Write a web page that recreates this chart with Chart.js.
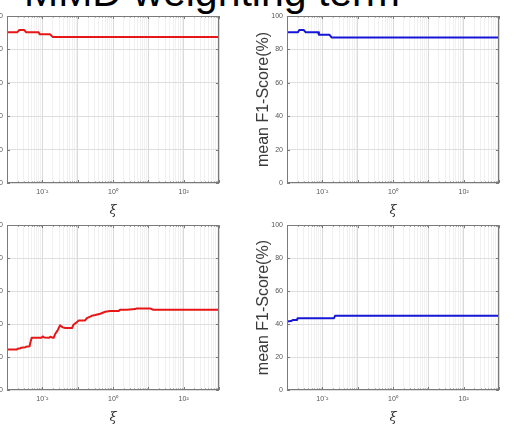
<!DOCTYPE html>
<html>
<head>
<meta charset="utf-8">
<script src="https://cdn.jsdelivr.net/npm/chart.js@4.4.0/dist/chart.umd.min.js"></script>
<style>
  body { margin: 0; background: #fff; width: 526px; height: 434px; overflow: hidden; position: relative; }
  .panel { position: absolute; }
  #title {
    position: absolute; left: 24px; top: -28px; margin: 0;
    font-family: "Liberation Sans", Arial, sans-serif; font-size: 41px; line-height: 41px;
    color: #000; white-space: nowrap; font-weight: normal;
  }
</style>
</head>
<body>
<div id="title">MMD weighting term</div>
<canvas id="chart-tl" class="panel" width="272" height="217" style="left:-26px; top:0px;"></canvas>
<canvas id="chart-tr" class="panel" width="272" height="217" style="left:254px; top:0px;"></canvas>
<canvas id="chart-bl" class="panel" width="272" height="217" style="left:-26px; top:217px;"></canvas>
<canvas id="chart-br" class="panel" width="272" height="217" style="left:254px; top:217px;"></canvas>
<script>
// xi values (log axis) and mean F1-score (%)
var xiTopLeft = [0.001, 0.00192, 0.00224, 0.00309, 0.0035, 0.00785, 0.0085, 0.0167, 0.0195, 1000];
var f1TopLeft = [90.2, 90.2, 91.6, 91.6, 90.2, 90.2, 89.0, 89.0, 87.5, 87.5];

var xiTopRight = [0.001, 0.00204, 0.00223, 0.0030, 0.0034, 0.0076, 0.0080, 0.0158, 0.0182, 1000];
var f1TopRight = [90.2, 90.2, 91.6, 91.6, 90.2, 90.2, 88.8, 88.8, 87.2, 87.2];

var xiBottomLeft = [0.001, 0.0019, 0.002, 0.0024, 0.0025, 0.0033, 0.00347, 0.00437, 0.00457, 0.005,
    0.00955, 0.0102, 0.0112, 0.0158, 0.0166, 0.02, 0.0209, 0.0234, 0.0269, 0.0316,
    0.038, 0.0447, 0.0692, 0.0759, 0.0955, 0.107, 0.162, 0.182, 0.251, 0.316,
    0.437, 0.603, 0.832, 1.45, 1.58, 2.45, 4.27, 4.68, 11.2, 13.8, 1000];
var f1BottomLeft = [24.6, 24.6, 25.1, 25.3, 25.7, 25.9, 26.3, 26.5, 28.7, 31.7,
    31.7, 32.5, 31.9, 31.7, 32.3, 31.7, 31.7, 34.2, 36.0, 39.2,
    38.0, 37.6, 37.6, 39.6, 41.2, 42.2, 42.2, 43.6, 45.0, 45.5,
    46.3, 47.5, 47.9, 47.9, 48.7, 48.7, 49.1, 49.5, 49.5, 48.7, 48.7];

var xiBottomRight = [0.001, 0.00129, 0.00145, 0.00191, 0.0020, 0.0214, 0.0229, 1000];
var f1BottomRight = [41.6, 41.8, 42.4, 42.4, 43.6, 43.6, 45.0, 45.0];

var xMajorTicks = [0.01, 1, 100];
var xMajorLabels = ['10\u207B\u00B2', '10\u2070', '10\u00B2'];
var yTicks = [0, 20, 40, 60, 80, 100];

var RED = 'rgb(232, 22, 22)';
var BLUE = 'rgb(22, 22, 215)';

// minor + major tick positions for the log axis, 1e-3 .. 1e3
function logTickValues() {
    let vals = [];
    for (let e = -3; e <= 2; e++) {
        for (let m = 1; m <= 9; m++) {
            vals.push(parseFloat((m * Math.pow(10, e)).toPrecision(6)));
        }
    }
    vals.push(1000);
    return vals;
}

function isDecade(v) {
    let l = Math.log10(v);
    return Math.abs(l - Math.round(l)) < 1e-6;
}

// MATLAB style box with inward tick marks
var boxPlugin = {
    id: 'matlabBox',
    afterDraw(chart) {
        const ctx = chart.ctx;
        const a = chart.chartArea;
        const x = chart.scales.x;
        const y = chart.scales.y;
        ctx.save();
        ctx.strokeStyle = '#7a7a7a';
        ctx.lineWidth = 1;
        ctx.beginPath();
        x.ticks.forEach(function (t) {
            let px = Math.round(x.getPixelForValue(t.value)) + 0.5;
            let len = isDecade(t.value) ? 3 : 1.5;
            ctx.moveTo(px, a.bottom); ctx.lineTo(px, a.bottom - len);
            ctx.moveTo(px, a.top); ctx.lineTo(px, a.top + len);
        });
        y.ticks.forEach(function (t) {
            let py = Math.round(y.getPixelForValue(t.value)) + 0.5;
            ctx.moveTo(a.left, py); ctx.lineTo(a.left + 3, py);
            ctx.moveTo(a.right, py); ctx.lineTo(a.right - 3, py);
        });
        ctx.stroke();
        ctx.strokeRect(Math.round(a.left) + 0.5, Math.round(a.top) + 0.5,
            Math.round(a.width) - 1, Math.round(a.height) - 1);
        ctx.restore();
    }
};

function createPanel(id, xs, ys, color, padTop, padBottom) {
    let points = xs.map(function (v, i) { return {x: v, y: ys[i]}; });
    let ctx2 = document.getElementById(id).getContext('2d');
    return new Chart(ctx2, {
        type: 'line',
        data: {
            datasets: [{
                data: points,
                borderColor: color,
                borderWidth: 2,
                borderJoinStyle: 'round',
                pointRadius: 0,
                tension: 0,
                fill: false
            }]
        },
        options: {
            responsive: false,
            animation: false,
            layout: { padding: { left: 0, right: 27, top: padTop, bottom: padBottom } },
            plugins: { legend: { display: false }, tooltip: { enabled: false } },
            scales: {
                x: {
                    type: 'logarithmic',
                    min: 0.001,
                    max: 1000,
                    afterBuildTicks: function (scale) {
                        scale.ticks = logTickValues().map(function (v) { return {value: v}; });
                    },
                    afterFit: function (scale) { scale.height = 34; },
                    grid: {
                        drawTicks: false,
                        color: function (c) {
                            if (!c.tick) return 'transparent';
                            return isDecade(c.tick.value) ? '#dadada' : '#f1f1f1';
                        },
                        lineWidth: 1
                    },
                    border: { display: false },
                    ticks: {
                        autoSkip: false,
                        maxRotation: 0,
                        padding: 5,
                        color: '#555',
                        font: { family: 'Liberation Sans, Arial, sans-serif', size: 7 },
                        callback: function (value) {
                            for (let i = 0; i < xMajorTicks.length; i++) {
                                if (Math.abs(value - xMajorTicks[i]) < 1e-9) return xMajorLabels[i];
                            }
                            return '';
                        }
                    },
                    title: {
                        display: true,
                        text: '\u03BE',
                        color: '#333',
                        padding: 0,
                        font: { family: 'DejaVu Serif, serif', style: 'italic', size: 13, lineHeight: 1 }
                    }
                },
                y: {
                    min: 0,
                    max: 100,
                    afterBuildTicks: function (scale) {
                        scale.ticks = yTicks.map(function (v) { return {value: v}; });
                    },
                    afterFit: function (scale) { scale.width = 33; },
                    grid: { drawTicks: false, color: '#dedede', lineWidth: 1 },
                    border: { display: false },
                    ticks: {
                        padding: 4,
                        color: '#555',
                        font: { family: 'Liberation Sans, Arial, sans-serif', size: 7 }
                    },
                    title: {
                        display: true,
                        text: 'mean F1-Score(%)',
                        color: '#3a3a3a',
                        padding: 0,
                        font: { family: 'Liberation Sans, Arial, sans-serif', size: 16 }
                    }
                }
            }
        },
        plugins: [boxPlugin]
    });
}

createPanel('chart-tl', xiTopLeft, f1TopLeft, RED, 16, 0);
createPanel('chart-tr', xiTopRight, f1TopRight, BLUE, 16, 0);
createPanel('chart-bl', xiBottomLeft, f1BottomLeft, RED, 5, 10);
createPanel('chart-br', xiBottomRight, f1BottomRight, BLUE, 5, 10);
</script>
</body>
</html>
